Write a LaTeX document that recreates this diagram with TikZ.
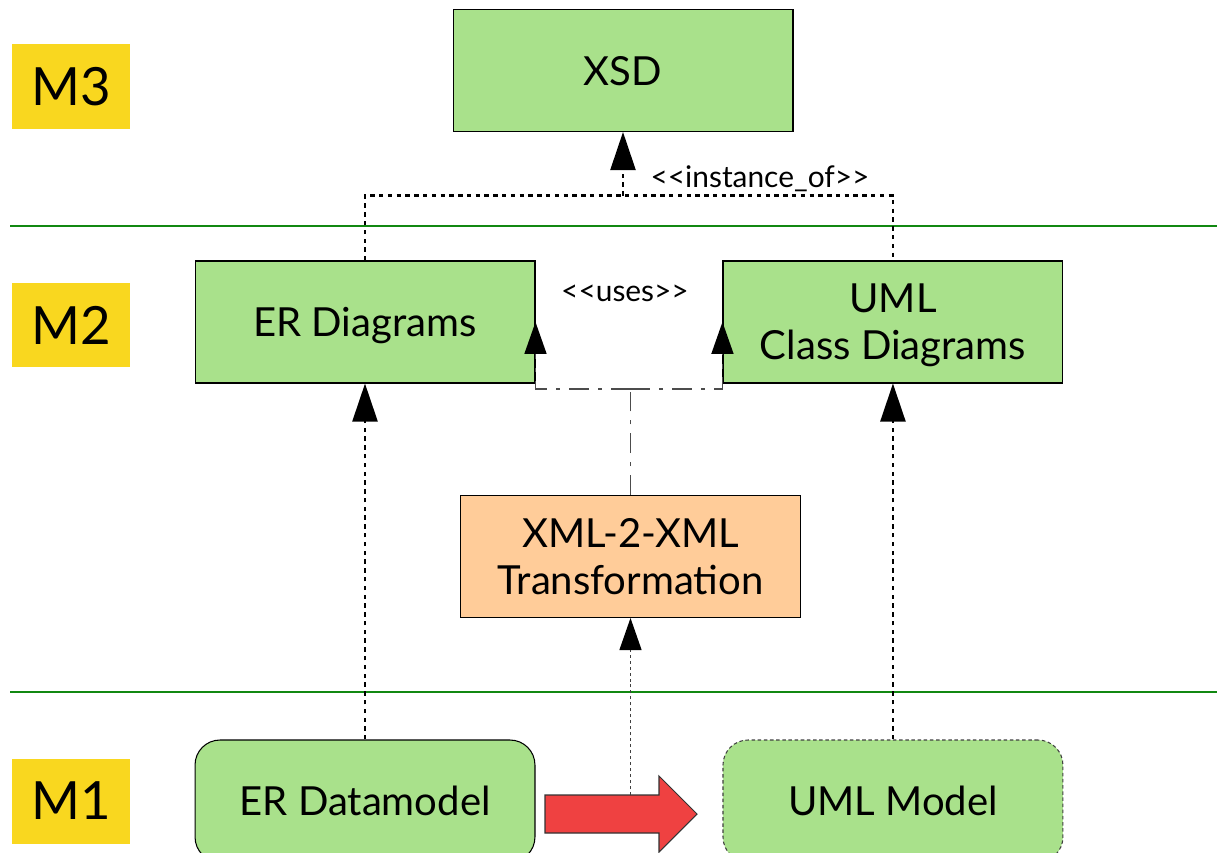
\documentclass[tikz,border=0pt]{standalone}
\usepackage{fontspec}
\setmainfont{Lato}
\usetikzlibrary{arrows.meta}
\usetikzlibrary{positioning}
\definecolor{boxgreen}{HTML}{A9E18B}
\definecolor{boxorange}{HTML}{FFCC99}
\definecolor{levelyellow}{HTML}{F9D71F}
\definecolor{linegreen}{HTML}{118811}
\definecolor{flowred}{HTML}{EF4141}
\tikzstyle{level} = [rectangle, fill=levelyellow, minimum width=2.36cm, minimum height=1.7cm, text centered, font=\fontsize{30}{36}\selectfont]
\tikzstyle{model} = [rectangle, fill=boxgreen, draw=black, line width=0.6pt, minimum width=6.8cm, minimum height=2.44cm, text centered, align=center, text depth=0pt, font=\fontsize{22.8}{26.6}\selectfont]
\tikzstyle{instance} = [model, rounded corners=0.5cm]
\tikzstyle{transform} = [model, fill=boxorange]
\tikzstyle{stereo} = [font=\fontsize{17}{20}\selectfont]
\tikzstyle{layer} = [linegreen, line width=1.2pt]
\tikzstyle{conforms} = [line width=1.3pt, dash pattern=on 2.5pt off 2.5pt]
\tikzstyle{bigtip} = [-{Triangle[length=0.76cm,width=0.5cm,black]}]
\tikzstyle{smalltip} = [-{Triangle[length=0.64cm,width=0.44cm,black]}]
\tikzstyle{feeds} = [black!75, line width=0.7pt, dash pattern=on 1.7pt off 1.7pt]
\tikzstyle{uses} = [black!70, line width=1pt, dash pattern=on 11.3pt off 5.1pt on 2.3pt off 5.1pt]

\begin{document}
\begin{tikzpicture}[x=0.02cm, y=-0.02cm]
\clip (0,0) rectangle (1217,852);
% levels
\node (m3) [level] at (71,86.5) {M3};
\node (m2) [level] at (71,325) {M2};
\node (m1) [level] at (71,801) {M1};
\draw [layer] (10,226) -- (1217,226);
\draw [layer] (10,692) -- (1217,692);

% models
\node (xsd) [model] at (623,70.5) {XSD};
\node (erd) [model] at (365,322) {ER Diagrams};
\node (umlcd) [model, right=3.74cm of erd] {UML\\Class Diagrams};
\node (xml) [transform] at (630.5,556.5) {XML-2-XML\\Transformation};
\node (erdm) [instance] at (365,801) {ER Datamodel};
\node (umlm) [instance, draw=black!75, dash pattern=on 2pt off 1.5pt, right=3.74cm of erdm] {UML Model};

% instance_of
\draw [conforms, bigtip] (erdm.north) -- (erd.south);
\draw [conforms, bigtip] (umlm.north) -- (umlcd.south);
\draw [conforms] (erd.north) |- ([yshift=1.3cm]umlcd.north) -- (umlcd.north);
\draw [conforms, bigtip] ([yshift=1.3cm]erd.north -| xsd.south) -- (xsd.south);
\node (instof) [stereo] at (760,179) {<\kern0pt<instance\_of>\kern0pt>};

% uses
\draw [uses] (xml.north) -- ++(0,-106) coordinate (usebus);
\draw [uses, smalltip] (usebus) -| (erd.east);
\draw [uses, smalltip] (usebus) -| (umlcd.west);
\node (usesl) [stereo] at (625,293) {<\kern0pt<uses>\kern0pt>};

% transformation arrow
\draw [fill=flowred, draw=black!80, line width=0.6pt] (545,795) -- (659,795) -- (659,776) -- (697,814) -- (659,852) -- (659,833) -- (545,833) -- cycle;
\coordinate (flowtop) at (630.5,795);
\draw [feeds, smalltip] (flowtop) -- (xml.south);
\end{tikzpicture}
\end{document}
